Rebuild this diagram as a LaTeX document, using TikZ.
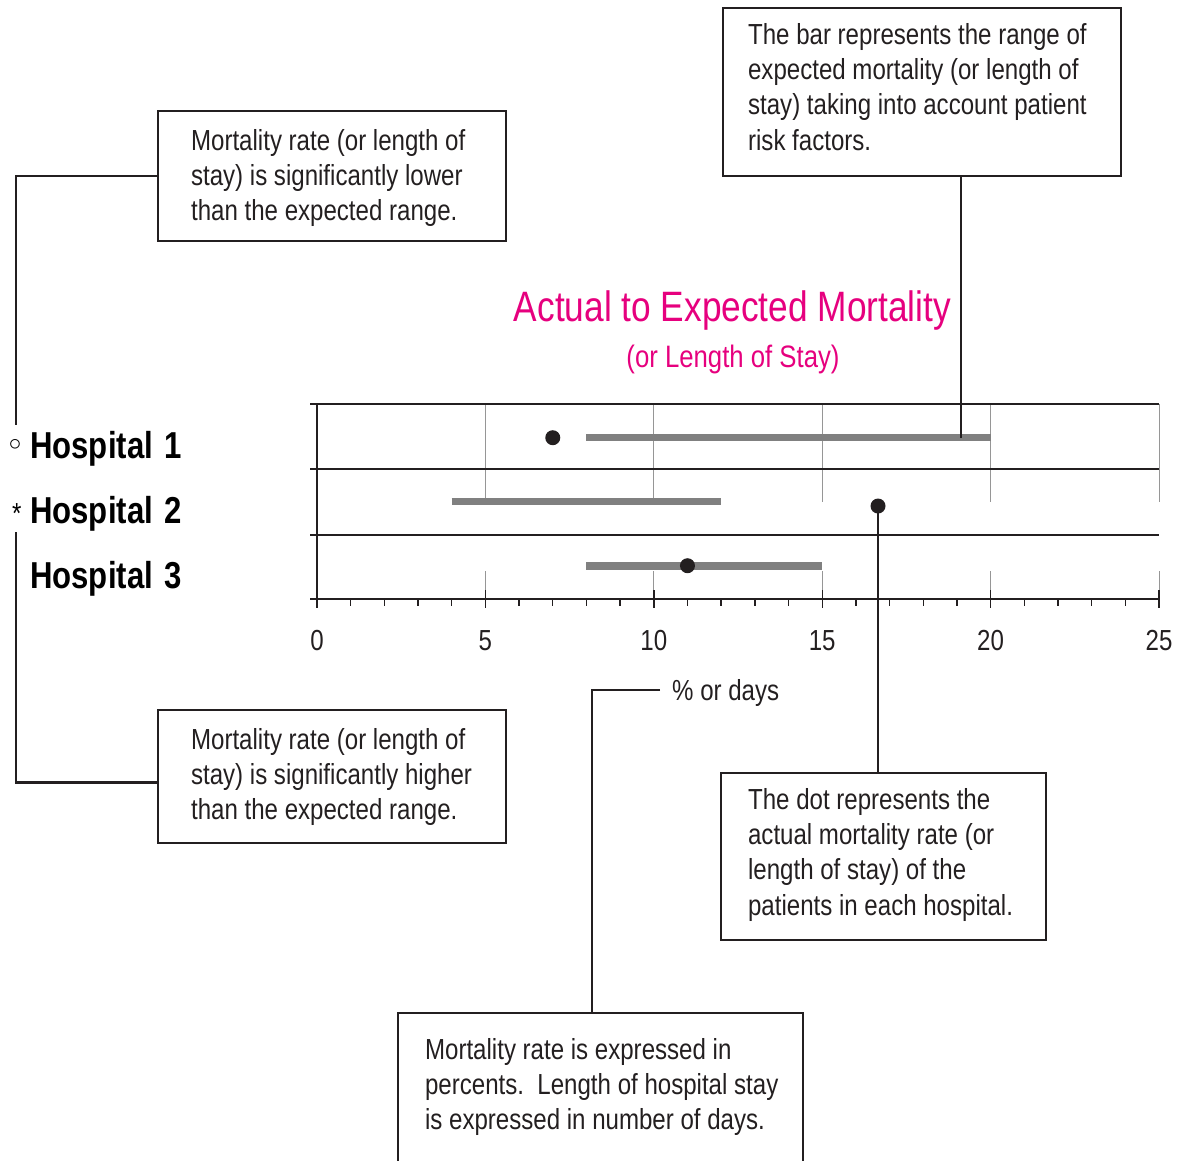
\documentclass[tikz,border=0pt]{standalone}
\usepackage{fontspec}
\setmainfont{Liberation Sans}[FakeStretch=0.83]
\definecolor{ink}{RGB}{35,31,32}
\definecolor{barc}{RGB}{128,128,128}
\definecolor{gridc}{RGB}{150,150,150}
\definecolor{magentat}{RGB}{230,0,126}
\newcommand\notefont{\fontsize{29}{35.3}\selectfont}
\newcommand\notelines[2]{\makebox[#1][l]{\begin{tabular}[t]{@{}l@{}}#2\end{tabular}}}
\begin{document}
\begin{tikzpicture}[x=1pt,y=-1pt,
  note/.style={draw=ink, line width=2.2pt, inner sep=0pt, anchor=north west, font=\notefont, text=ink},
  lead/.style={draw=ink, line width=2.5pt},
  chartline/.style={draw=ink, line width=1.4pt},
  gridline/.style={draw=gridc, line width=1pt},
  rangebar/.style={draw=barc, line width=7.5pt},
  dotmark/.style={circle, fill=ink, inner sep=0pt, minimum size=15pt},
  hosp/.style={anchor=base west, inner sep=0pt, font=\fontsize{37.5}{44}\selectfont\bfseries, text=black},
  axlab/.style={anchor=base, inner sep=0pt, font=\notefont, text=ink},
  titlestyle/.style={anchor=base, inner sep=0pt, text=magentat}]

\useasboundingbox (0,0) rectangle (1185,1160);
\clip (0,0) rectangle (1185,1160);

% ---- chart grid ----
\foreach \v in {5,10,...,25} {
  \draw[gridline] ({317+33.68*\v},404) -- ({317+33.68*\v},502);
  \draw[gridline] ({317+33.68*\v},571) -- ({317+33.68*\v},599);
}
\foreach \yy in {404,469,535,599} {
  \draw[chartline] (317,\yy) -- (1159,\yy);
  \draw[chartline] (310,\yy) -- (323,\yy);
}
\draw[chartline] (317,404) -- (317,608);
\foreach \v in {1,...,24} \draw[chartline] ({317+33.68*\v},599) -- ({317+33.68*\v},606);
\foreach \v in {0,5,...,25} {
  \draw[chartline] ({317+33.68*\v},590) -- ({317+33.68*\v},608);
  \node[axlab] (ax\v) at ({317+33.68*\v},650) {\v};
}

% ---- range bars ----
\draw[rangebar] ({317+33.68*8},437.7) -- ({317+33.68*20},437.7);
\draw[rangebar] ({317+33.68*4},501.7) -- ({317+33.68*12},501.7);
\draw[rangebar] ({317+33.68*8},566) -- ({317+33.68*15},566);

% ---- dots ----
\node[dotmark] (dot1) at ({317+33.68*7},437.7) {};
\node[dotmark] (dot2) at (878,506) {};
\node[dotmark] (dot3) at ({317+33.68*11},565.7) {};

% ---- title ----
\node[titlestyle, font=\fontsize{42.5}{50}\selectfont] (title) at (732.5,321.7) {Actual to Expected Mortality};
\node[titlestyle, font=\fontsize{31}{36}\selectfont] (subtitle) at (733,367.3) {(or Length of Stay)};

% ---- hospital labels ----
\node[hosp] (h1) at (30,458) {Hospital\kern3pt\ 1};
\node[hosp] (h2) at (30,523) {Hospital\kern3pt\ 2};
\node[hosp] (h3) at (30,588) {Hospital\kern3pt\ 3};
\node[inner sep=0pt, font=\fontsize{25}{28}\selectfont, text=black] (m1) at (15,445) {$\circ$};
\node[anchor=base west, inner sep=0pt, font=\notefont, text=black] (m2) at (12,523) {*};

% ---- axis unit label ----
\node[anchor=base west, inner sep=0pt, font=\notefont, text=ink] (days) at (672,700) {\% or days};

% ---- note boxes ----
\node[note, minimum width=348pt, minimum height=130pt, text height=39pt, text depth=91pt] (lowbox) at (157,110)
  {\notelines{282pt}{Mortality rate (or length of\\stay) is significantly lower\\than the expected range.}};
\node[note, minimum width=398pt, minimum height=168pt, text height=36pt, text depth=132pt] (barbox) at (722,7)
  {\notelines{348pt}{The bar represents the range of\\expected mortality (or length of\\stay) taking into account patient\\risk factors.}};
\node[note, minimum width=348pt, minimum height=133pt, text height=39pt, text depth=94pt] (highbox) at (157,709)
  {\notelines{282pt}{Mortality rate (or length of\\stay) is significantly higher\\than the expected range.}};
\node[note, minimum width=325pt, minimum height=167pt, text height=36pt, text depth=131pt] (dotbox) at (720,772)
  {\notelines{271pt}{The dot represents the\\actual mortality rate (or\\length of stay) of the\\patients in each hospital.}};
\node[note, minimum width=405pt, minimum height=180pt, text height=46pt, text depth=134pt] (unitsbox) at (397,1012)
  {\notelines{351pt}{Mortality rate is expressed in\\percents.~\ Length of hospital stay\\is expressed in number of days.}};

% ---- leaders ----
\coordinate (lend1) at (16,425);
\coordinate (lend2) at (16,532);
\coordinate (bartip) at (961,437.7);
\coordinate (dcorner) at (592,690);
\draw[lead] (lowbox.west) -| (lend1);
\draw[lead] ([yshift=-6pt]highbox.west) -| (lend2);
\draw[lead] (barbox.south -| bartip) -- (bartip);
\draw[lead] (dot2.center) -- (dot2 |- dotbox.north);
\draw[lead] ([xshift=-12pt]days.west |- dcorner) -- (dcorner) -- (dcorner |- unitsbox.north);
\end{tikzpicture}
\end{document}
